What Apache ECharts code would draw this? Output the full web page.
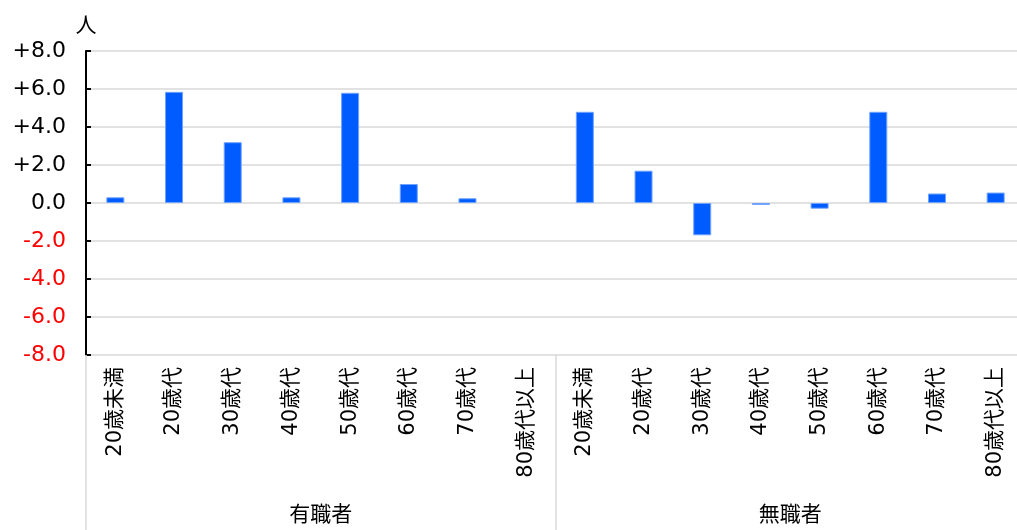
<!DOCTYPE html>
<html><head><meta charset="utf-8">
<script src="https://cdn.jsdelivr.net/npm/echarts@6/dist/echarts.min.js"></script>
<style>html,body{margin:0;padding:0;overflow:hidden;background:#fff}#c{width:1026px;height:530px}</style>
</head><body><div id="c"></div>
<script>
var categories = ['20歳未満','20歳代','30歳代','40歳代','50歳代','60歳代','70歳代','80歳代以上',
                  '20歳未満','20歳代','30歳代','40歳代','50歳代','60歳代','70歳代','80歳代以上'];
var groups = ['有職者','無職者'];
var employed = [0.3, 5.85, 3.2, 0.3, 5.8, 1.0, 0.25, 0];
var unemployed = [4.8, 1.7, -1.7, -0.1, -0.3, 4.8, 0.5, 0.55];
var values = employed.concat(unemployed);
var yTicks = {min: -8, max: 8, interval: 2};
var font = 'DejaVu Sans, "Noto Sans CJK JP", sans-serif';

var chart = echarts.init(document.getElementById('c'));
chart.setOption({
  animation: false,
  grid: {left: 86, right: 1, top: 51, bottom: 175},
  xAxis: [{
    type: 'category', data: categories, position: 'bottom',
    axisLine: {show: false}, axisTick: {show: false},
    axisLabel: {rotate: 90, margin: 12, fontSize: 21, color: '#000', fontFamily: font, interval: 0}
  }, {
    type: 'category', data: groups, position: 'bottom',
    axisLine: {show: false},
    axisTick: {show: true, length: 176, lineStyle: {color: '#d9d9d9', width: 1.5}},
    axisLabel: {margin: 150, fontSize: 21, color: '#000', fontFamily: font}
  }],
  yAxis: {
    type: 'value', min: yTicks.min, max: yTicks.max, interval: yTicks.interval,
    name: '人', nameLocation: 'end', nameGap: 14,
    nameTextStyle: {fontSize: 21, color: '#000', fontFamily: font},
    axisLine: {show: true, lineStyle: {color: '#000', width: 2}},
    axisTick: {show: true, inside: true, length: 5, lineStyle: {color: '#000', width: 2}},
    axisLabel: {
      fontSize: 22, margin: 20, fontFamily: font,
      formatter: function (v) { return (v > 0 ? '+' : '') + v.toFixed(1); },
      color: function (v) { return Number(v) < 0 ? '#ff0000' : '#000'; }
    },
    splitLine: {lineStyle: {color: '#d9d9d9', width: 1.5}}
  },
  series: [{
    type: 'bar', barWidth: 18,
    data: values.map(function (v) { return v === 0 ? {value: v, itemStyle: {borderWidth: 0}} : v; }),
    itemStyle: {color: '#005cff', borderColor: '#6fa3ff', borderWidth: 1}
  }]
});
</script></body></html>
